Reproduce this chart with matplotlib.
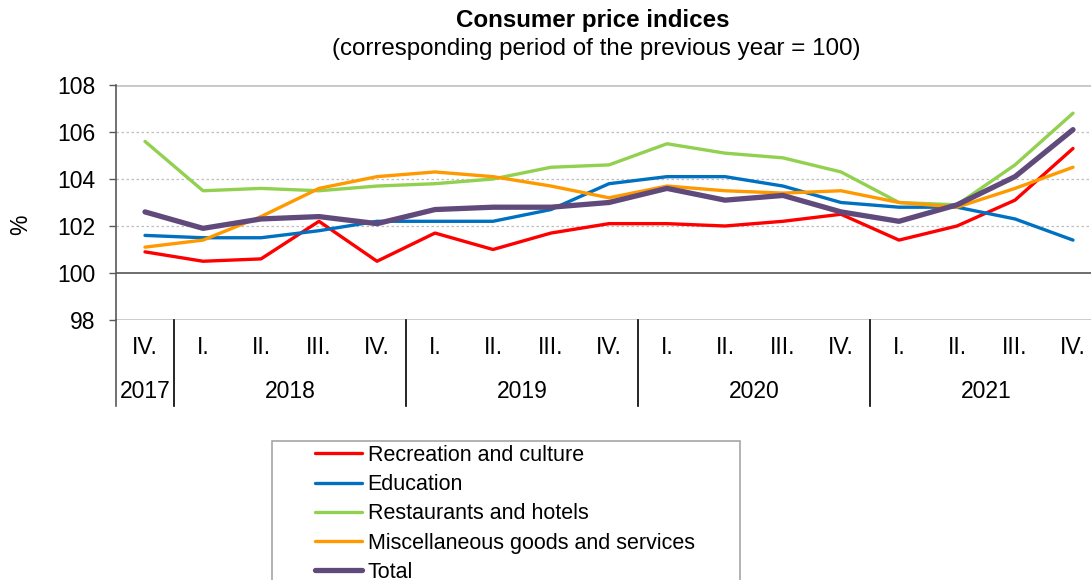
import matplotlib
matplotlib.use("Agg")
import matplotlib.pyplot as plt
from matplotlib.patches import Rectangle
from matplotlib.transforms import blended_transform_factory

plt.rcParams['font.family'] = ['Liberation Sans', 'DejaVu Sans']

quarters = ["IV.", "I.", "II.", "III.", "IV.", "I.", "II.", "III.", "IV.",
            "I.", "II.", "III.", "IV.", "I.", "II.", "III.", "IV."]
years = ["2017", "2018", "2019", "2020", "2021"]
year_spans = [(0, 0), (1, 4), (5, 8), (9, 12), (13, 16)]

recreation = [100.9, 100.5, 100.6, 102.2, 100.5, 101.7, 101.0, 101.7, 102.1,
              102.1, 102.0, 102.2, 102.5, 101.4, 102.0, 103.1, 105.3]
education = [101.6, 101.5, 101.5, 101.8, 102.2, 102.2, 102.2, 102.7, 103.8,
             104.1, 104.1, 103.7, 103.0, 102.8, 102.8, 102.3, 101.4]
restaurants = [105.6, 103.5, 103.6, 103.5, 103.7, 103.8, 104.0, 104.5, 104.6,
               105.5, 105.1, 104.9, 104.3, 103.0, 102.9, 104.6, 106.8]
misc = [101.1, 101.4, 102.4, 103.6, 104.1, 104.3, 104.1, 103.7, 103.2,
        103.7, 103.5, 103.4, 103.5, 103.0, 102.8, 103.6, 104.5]
total = [102.6, 101.9, 102.3, 102.4, 102.1, 102.7, 102.8, 102.8, 103.0,
         103.6, 103.1, 103.3, 102.6, 102.2, 102.9, 104.1, 106.1]

series = [
    ("Recreation and culture", recreation, "#FF0000", 2.4),
    ("Education", education, "#0070C0", 2.4),
    ("Restaurants and hotels", restaurants, "#92D050", 2.4),
    ("Miscellaneous goods and services", misc, "#FF9900", 2.4),
    ("Total", total, "#604A7B", 3.8),
]

W, H = 1091, 580
fig = plt.figure(figsize=(W / 100, H / 100), dpi=100)
fig.patch.set_facecolor("white")

left, right, top, bottom = 116, 116 + 17 * 58, 85, 320
ax = fig.add_axes([left / W, 1 - bottom / H, (right - left) / W, (bottom - top) / H])

x = list(range(len(quarters)))
for name, vals, col, lw in series:
    ax.plot(x, vals, color=col, lw=lw, label=name, solid_joinstyle="round",
            solid_capstyle="round", zorder=3)

ax.set_xlim(-0.5, 16.5)
ax.set_ylim(98, 108)
ax.set_yticks([98, 100, 102, 104, 106, 108])
ax.tick_params(axis="y", direction="out", length=5, width=1, color="#595959",
               pad=10, labelsize=16.5)
ax.set_xticks([])

for s in ["top", "right", "bottom"]:
    ax.spines[s].set_visible(False)
ax.spines["left"].set_color("#595959")
ax.spines["left"].set_linewidth(1.2)

for yv in [102, 104, 106]:
    ax.axhline(yv, color="#BFBFBF", lw=0.9, ls=(0, (2, 2)), zorder=1)
ax.axhline(108, color="#C8C8C8", lw=2, zorder=1)
ax.axhline(98, color="#C8C8C8", lw=2, zorder=1)
ax.axhline(100, color="#6E6E6E", lw=1.4, zorder=2)

trans = blended_transform_factory(ax.transData, ax.transAxes)
ah = bottom - top
q_y = -28 / ah
y_y = -72 / ah
sep_bottom = -86 / ah
for i, q in enumerate(quarters):
    ax.text(i, q_y, q, transform=trans, ha="center", va="center", fontsize=16.5)
for yr, (a, b) in zip(years, year_spans):
    ax.text((a + b) / 2, y_y, yr, transform=trans, ha="center", va="center", fontsize=16.5)
for xs in [-0.5, 0.5, 4.5, 8.5, 12.5]:
    ax.plot([xs, xs], [0, sep_bottom], transform=trans, color="#000000" if xs > 0 else "#595959",
            lw=1.2, clip_on=False)

fig.text(21 / W, 1 - 225 / H, "%", rotation=90, ha="center", va="center", fontsize=16.5)
fig.text(593 / W, 1 - 21 / H, "Consumer price indices", ha="center", va="center",
         fontsize=17.4, fontweight="bold")
fig.text(596 / W, 1 - 49 / H, "(corresponding period of the previous year = 100)",
         ha="center", va="center", fontsize=17.4)

# legend frame (bottom edge runs below the figure, as in the reference)
fig.patches.append(Rectangle((272 / W, -0.05), (740 - 272) / W, 1 - 441 / H + 0.05,
                             transform=fig.transFigure, fill=False,
                             edgecolor="#A6A6A6", lw=1.2))
handles, labels = ax.get_legend_handles_labels()
leg = fig.legend(handles, labels, loc="upper left",
                 bbox_to_anchor=(315 / W, 1 - 445 / H), frameon=False,
                 fontsize=15.5, handlelength=2.2, handletextpad=0.25,
                 labelspacing=0.38, borderpad=0, borderaxespad=0)

fig.savefig("out.png", dpi=100, facecolor="white")
